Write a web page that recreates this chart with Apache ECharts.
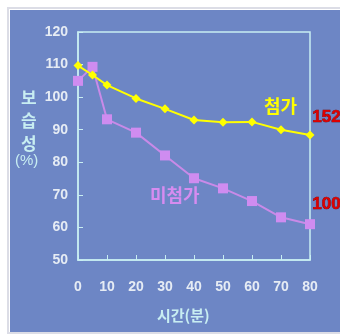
<!DOCTYPE html>
<html>
<head>
<meta charset="utf-8">
<script src="https://cdn.jsdelivr.net/npm/echarts@6/dist/echarts.min.js"></script>
<style>
  html, body { margin: 0; padding: 0; background: #ffffff; }
  #chart { width: 340px; height: 334px; }
</style>
</head>
<body>
<div id="chart"></div>
<script>
// Time (minutes) on the x axis
const minutes = [0, 5, 10, 20, 30, 40, 50, 60, 70, 80];
// Moisture retention (%) with additive
const withAdditive = [109.7, 106.8, 103.7, 99.6, 96.4, 93.0, 92.3, 92.4, 90.0, 88.4];
// Moisture retention (%) without additive
const withoutAdditive = [105.0, 109.3, 93.2, 89.1, 82.1, 75.1, 72.0, 68.1, 63.1, 61.0];
const seriesNames = ['첨가', '미첨가'];
const endNotes = ['152', '100'];
const yTicks = { min: 50, max: 120, interval: 10 };
const xTicks = { min: 0, max: 80, interval: 10 };

const tickColor = '#e6ecf4';
const axisColor = '#c8eef2';
const numFont = '"Liberation Sans", Arial, sans-serif';
const krFont = '"Noto Sans CJK KR", "Noto Sans", sans-serif';

const chart = echarts.init(document.getElementById('chart'), null, { renderer: 'canvas' });

chart.setOption({
  animation: false,
  backgroundColor: '#ffffff',
  grid: {
    left: 78, top: 32, right: 30, bottom: 74,
    show: true, borderColor: axisColor, borderWidth: 1.5, backgroundColor: 'transparent'
  },
  xAxis: {
    type: 'value', min: xTicks.min, max: xTicks.max, interval: xTicks.interval,
    axisLine: { lineStyle: { color: axisColor, width: 1.5 } },
    axisTick: { inside: true, length: 5, lineStyle: { color: axisColor } },
    splitLine: { show: false },
    axisLabel: { color: tickColor, fontFamily: numFont, fontWeight: 'bold', fontSize: 14, margin: 20 }
  },
  yAxis: {
    type: 'value', min: yTicks.min, max: yTicks.max, interval: yTicks.interval,
    axisLine: { show: true, lineStyle: { color: axisColor, width: 1.5 } },
    axisTick: { show: true, inside: true, length: 5, lineStyle: { color: axisColor } },
    splitLine: { show: false },
    axisLabel: { color: tickColor, fontFamily: numFont, fontWeight: 'bold', fontSize: 14, margin: 10 }
  },
  graphic: [
    { type: 'rect', z: -10, silent: true,
      shape: { x: 8, y: 8, width: 340, height: 325 },
      style: { fill: '#ffffff', stroke: '#dcdde6', lineWidth: 2 } },
    { type: 'rect', z: -9, silent: true,
      shape: { x: 10, y: 10, width: 340, height: 322 },
      style: { fill: '#6d86c5' } },
    { type: 'text', left: 21, top: 86, z: 10,
      style: { text: '보\n습\n성', fill: axisColor, font: 'bold 17px ' + krFont, lineHeight: 23, align: 'center' } },
    { type: 'text', left: 15, top: 153, z: 10,
      style: { text: '(%)', fill: axisColor, font: '15px ' + numFont } },
    { type: 'text', left: 157, top: 308, z: 10,
      style: { text: '시간(분)', fill: axisColor, font: 'bold 15px ' + krFont } },
    { type: 'text', left: 264, top: 97, z: 10,
      style: { text: seriesNames[0], fill: '#ffff00', font: 'bold 18px ' + krFont } },
    { type: 'text', left: 150, top: 186, z: 10,
      style: { text: seriesNames[1], fill: '#d68cf0', font: 'bold 18px ' + krFont } },
    { type: 'text', left: 312, top: 109, z: 10,
      style: { text: endNotes[0], fill: '#dd0000', font: 'bold 17px ' + numFont, stroke: '#700000', lineWidth: 0.6 } },
    { type: 'text', left: 312, top: 196, z: 10,
      style: { text: endNotes[1], fill: '#dd0000', font: 'bold 17px ' + numFont, stroke: '#700000', lineWidth: 0.6 } }
  ],
  series: [
    {
      name: seriesNames[0], type: 'line',
      data: minutes.map((m, i) => [m, withAdditive[i]]),
      symbol: 'diamond', symbolSize: 9,
      lineStyle: { color: '#ffff00', width: 2 },
      itemStyle: { color: '#ffff00' },
      z: 3
    },
    {
      name: seriesNames[1], type: 'line',
      data: minutes.map((m, i) => [m, withoutAdditive[i]]),
      symbol: 'rect', symbolSize: 10,
      lineStyle: { color: '#c98ae8', width: 2 },
      itemStyle: { color: '#cf8cf0' },
      z: 2
    }
  ]
});
</script>
</body>
</html>
